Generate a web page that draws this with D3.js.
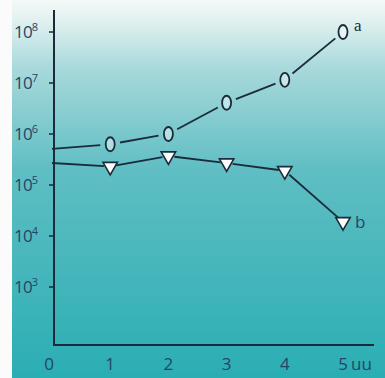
<!DOCTYPE html>
<html>
<head>
<meta charset="utf-8">
<script src="https://cdn.jsdelivr.net/npm/d3@7"></script>
<style>
  html, body { margin: 0; padding: 0; background: #fbfbfb; }
  svg { display: block; }
</style>
</head>
<body>
<div id="chart"></div>
<script>
// values
const xs = [0, 1, 2, 3, 4, 5]
const seriesA = [5.1e5, 6.3e5, 1e6, 4.1e6, 1.15e7, 1e8]
const seriesB = [2.7e5, 2.3e5, 3.7e5, 2.7e5, 1.9e5, 1.9e4]
const xTicks = [0, 1, 2, 3, 4, 5]
const yExponents = [3, 4, 5, 6, 7, 8]

const width = 385, height = 378
const ink = '#1b2b3b'
const textColor = '#264566'
const sans = '"Open Sans", "DejaVu Sans", sans-serif'

const svg = d3.select('#chart').append('svg')
    .attr('width', width)
    .attr('height', height)

const defs = svg.append('defs')
const grad = defs.append('linearGradient')
    .attr('id', 'bg')
    .attr('x1', 0).attr('y1', 0).attr('x2', 0).attr('y2', 1)
;[['0%', '#f4f9f8'], ['6%', '#dff0ef'], ['18%', '#a8d9db'], ['45%', '#5fbec3'], ['100%', '#2aaeb3']]
  .forEach(([o, c]) => grad.append('stop').attr('offset', o).attr('stop-color', c))

svg.append('rect')
    .attr('x', 12).attr('y', 0)
    .attr('width', width - 12).attr('height', height)
    .attr('fill', 'url(#bg)')

const x = d3.scaleLinear().domain([0, 5]).range([52, 343])
const y = d3.scaleLog().domain([1e3, 1e8]).range([287, 32])

const axisX = 54, axisBottom = 345

// series lines, broken around the markers
function segments (vals, gap) {
  const pts = xs.map((v, i) => [x(v), y(vals[i])])
  const segs = []
  for (let i = 0; i < pts.length - 1; i++) {
    const [x0, y0] = pts[i], [x1, y1] = pts[i + 1]
    const len = Math.hypot(x1 - x0, y1 - y0)
    const ux = (x1 - x0) / len, uy = (y1 - y0) / len
    const g0 = i === 0 ? 0 : gap
    segs.push([x0 + ux * g0, y0 + uy * g0, x1 - ux * gap, y1 - uy * gap])
  }
  return segs
}

const lines = svg.append('g')
    .attr('stroke', ink)
    .attr('stroke-width', 1.8)
    .attr('fill', 'none')

lines.selectAll('line.a')
  .data(segments(seriesA, 10))
  .join('line')
    .attr('class', 'a')
    .attr('x1', d => d[0]).attr('y1', d => d[1])
    .attr('x2', d => d[2]).attr('y2', d => d[3])

lines.selectAll('line.b')
  .data(segments(seriesB, 6))
  .join('line')
    .attr('class', 'b')
    .attr('x1', d => d[0]).attr('y1', d => d[1])
    .attr('x2', d => d[2]).attr('y2', d => d[3])

// axes
svg.append('path')
    .attr('d', `M${axisX},10V${axisBottom}H374`)
    .attr('fill', 'none')
    .attr('stroke', ink)
    .attr('stroke-width', 2)

svg.append('g')
    .attr('stroke', ink)
    .attr('stroke-width', 1.5)
  .selectAll('line')
  .data(yExponents)
  .join('line')
    .attr('x1', axisX - 5).attr('x2', axisX)
    .attr('y1', d => y(Math.pow(10, d))).attr('y2', d => y(Math.pow(10, d)))

const yLabels = svg.append('g')
    .attr('font-family', sans)
    .attr('fill', textColor)
  .selectAll('text')
  .data(yExponents)
  .join('text')
    .attr('x', 14)
    .attr('y', d => y(Math.pow(10, d)) + 6)
    .attr('font-size', 17)
    .attr('letter-spacing', -0.8)
yLabels.append('tspan').text('10')
yLabels.append('tspan')
    .attr('dy', -7)
    .attr('font-size', 11)
    .text(d => d)

svg.append('g')
    .attr('font-family', sans)
    .attr('font-size', 17)
    .attr('fill', textColor)
    .attr('text-anchor', 'middle')
  .selectAll('text')
  .data(xTicks)
  .join('text')
    .attr('x', d => d === 0 ? x(d) - 3 : x(d))
    .attr('y', 370)
    .text(d => d)

svg.append('text')
    .attr('x', x(5) + 8)
    .attr('y', 370)
    .attr('font-family', sans)
    .attr('font-size', 17)
    .attr('fill', textColor)
    .text('uu')

// markers
svg.append('g')
  .selectAll('ellipse')
  .data(xs.slice(1))
  .join('ellipse')
    .attr('cx', d => x(d))
    .attr('cy', d => y(seriesA[xs.indexOf(d)]))
    .attr('rx', 4.5)
    .attr('ry', 7)
    .attr('fill', 'rgba(255,255,255,0.45)')
    .attr('stroke', ink)
    .attr('stroke-width', 1.8)

const tri = d3.symbol().type(d3.symbolTriangle).size(90)
svg.append('g')
  .selectAll('path')
  .data(xs.slice(1))
  .join('path')
    .attr('d', tri)
    .attr('transform', d => `translate(${x(d)},${y(seriesB[xs.indexOf(d)])}) rotate(180)`)
    .attr('fill', '#fbfdfd')
    .attr('stroke', ink)
    .attr('stroke-width', 1.6)

// series names
svg.append('text')
    .attr('x', x(5) + 11)
    .attr('y', y(seriesA[5]) - 1)
    .attr('font-family', '"Liberation Serif", "DejaVu Serif", serif')
    .attr('font-size', 17)
    .attr('fill', ink)
    .text('a')

svg.append('text')
    .attr('x', x(5) + 12)
    .attr('y', y(seriesB[5]) + 6)
    .attr('font-family', sans)
    .attr('font-size', 17)
    .attr('fill', textColor)
    .text('b')
</script>
</body>
</html>
